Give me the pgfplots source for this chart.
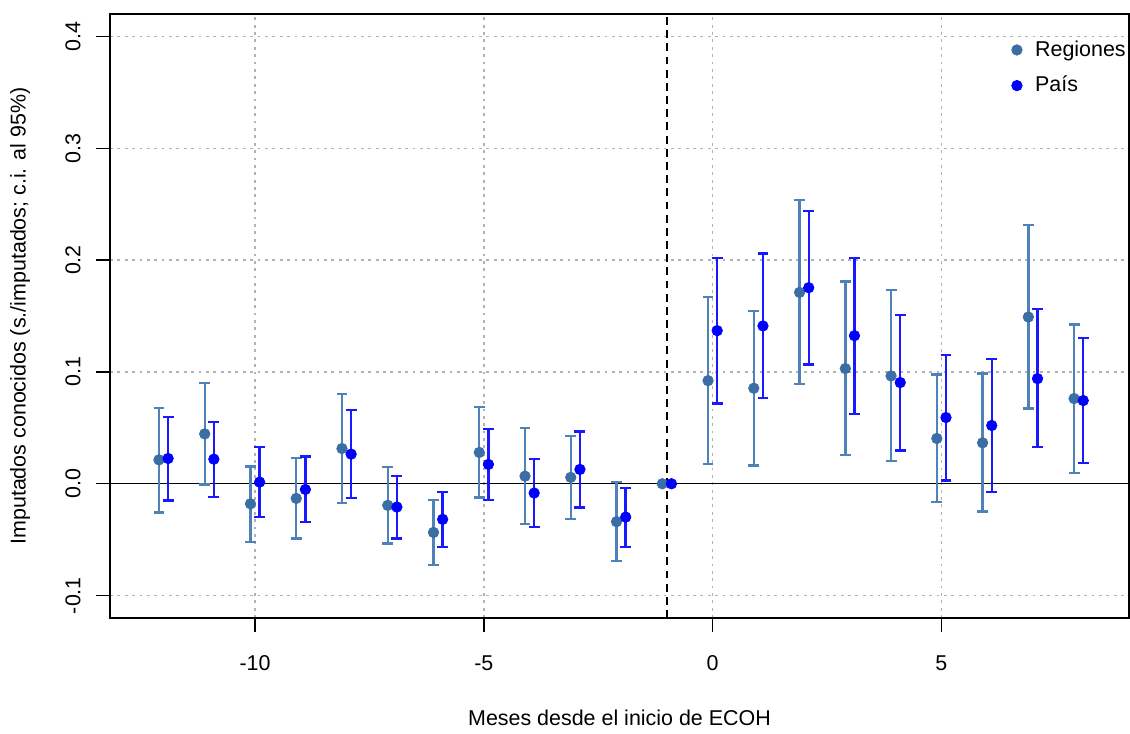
\documentclass[border=0pt]{standalone}
\usepackage{fontspec}
\setmainfont{Liberation Sans}
\usepackage{pgfplots}
\pgfplotsset{compat=1.18}
\usepackage{pgfplotstable}
\definecolor{regpt}{RGB}{58,110,165}
\definecolor{regbar}{RGB}{78,130,185}
\definecolor{paispt}{RGB}{0,0,255}
\definecolor{paisbar}{RGB}{25,25,255}

% mes  estimacion  limite inferior  limite superior
\pgfplotstableread{
m    y        lo       hi
-12  0.0214  -0.0256  0.0679
-11  0.0446  -0.0006  0.0899
-10  -0.0179 -0.0518  0.0155
-9   -0.0131 -0.0490  0.0229
-8   0.0315  -0.0173  0.0804
-7   -0.0193 -0.0533  0.0149
-6   -0.0435 -0.0726  -0.0146
-5   0.0280  -0.0122  0.0685
-4   0.0068  -0.0360  0.0497
-3   0.0057  -0.0315  0.0429
-2   -0.0339 -0.0693  0.0015
-1   0.0000  0.0000   0.0000
0    0.0922  0.0179   0.1670
1    0.0854  0.0164   0.1545
2    0.1711  0.0890   0.2536
3    0.1030  0.0256   0.1807
4    0.0964  0.0202   0.1732
5    0.0405  -0.0164  0.0976
6    0.0366  -0.0247  0.0985
7    0.1491  0.0673   0.2313
8    0.0762  0.0098   0.1423
}\regiones

\pgfplotstableread{
m    y        lo       hi
-12  0.0226  -0.0149  0.0598
-11  0.0220  -0.0116  0.0554
-10  0.0015  -0.0295  0.0327
-9   -0.0051 -0.0342  0.0244
-8   0.0265  -0.0128  0.0660
-7   -0.0208 -0.0488  0.0071
-6   -0.0318 -0.0568  -0.0071
-5   0.0173  -0.0146  0.0488
-4   -0.0083 -0.0387  0.0220
-3   0.0128  -0.0211  0.0467
-2   -0.0298 -0.0565  -0.0036
-1   0.0000  0.0000   0.0000
0    0.1369  0.0717   0.2021
1    0.1411  0.0765   0.2057
2    0.1753  0.1065   0.2438
3    0.1324  0.0625   0.2021
4    0.0905  0.0298   0.1509
5    0.0592  0.0030   0.1152
6    0.0521  -0.0074  0.1116
7    0.0940  0.0327   0.1560
8    0.0744  0.0185   0.1301
}\pais

\begin{document}
\fontsize{12.2}{14.6}\selectfont
\begin{tikzpicture}
\begin{axis}[
  scale only axis,
  width=20.38cm, height=12.08cm,
  xmin=-13.17, xmax=9.1,
  ymin=-0.12, ymax=0.42,
  axis line style={line width=0.8pt},
  xtick={-10,-5,0,5},
  xticklabels={-10,-5,0,5},
  ytick={-0.1,0,0.1,0.2,0.3,0.4},
  yticklabels={-0.1,0.0,0.1,0.2,0.3,0.4},
  xtick pos=bottom, ytick pos=left,
  tick align=outside,
  major tick length=0.28cm,
  tick style={black, line width=0.8pt},
  ticklabel style={font=\fontsize{12.2}{14.6}\selectfont},
  yticklabel style={rotate=90, anchor=south, inner sep=0pt},
  xticklabel style={anchor=north, inner sep=0pt},
  yticklabel shift=0.3cm,
  xticklabel shift=0.46cm,
  grid=major,
  grid style={dash pattern=on 1.6pt off 2.6pt, gray!60, line width=0.8pt},
  xlabel={Meses desde el inicio de ECOH},
  ylabel={Imputados conocidos (s./imputados; c.i. al 95\%)},
  label style={font=\fontsize{12.2}{14.6}\selectfont},
  xlabel style={at={(axis description cs:0.5,0)}, anchor=center, yshift=-2.0cm},
  ylabel style={at={(axis description cs:0,0.5)}, anchor=center, rotate=0, yshift=1.8cm},
  legend style={at={(axis description cs:0.998,0.958)}, anchor=north east,
    draw=none, fill=none, inner sep=0pt, row sep=0.3cm,
    font=\fontsize{12.2}{14.6}\selectfont,
    nodes={inner sep=0.5pt, anchor=west}},
  legend cell align=left,
  legend image code/.code={\path[#1] plot coordinates {(0cm,0cm)}; \path (0.34cm,0cm);},
  clip=false,
]
\draw[black, line width=0.8pt] (axis cs:-13.17,0) -- (axis cs:9.1,0);
\draw[black, dash pattern=on 4.5pt off 3pt, line width=0.8pt] (axis cs:-1,-0.12) -- (axis cs:-1,0.42);

\addplot[only marks, mark=*, mark size=3.0pt, mark options={regpt, fill=regpt},
  error bars/.cd, y dir=both, y explicit,
  error bar style={regbar, line width=1.35pt},
  error mark options={regbar, line width=1.35pt, mark size=3.1pt, rotate=90}]
  table[x expr=\thisrow{m}-0.1, y=y,
        y error plus expr=\thisrow{hi}-\thisrow{y},
        y error minus expr=\thisrow{y}-\thisrow{lo}] {\regiones};
\addlegendentry{Regiones}

\addplot[only marks, mark=*, mark size=3.0pt, mark options={paispt, fill=paispt},
  error bars/.cd, y dir=both, y explicit,
  error bar style={paisbar, line width=1.35pt},
  error mark options={paisbar, line width=1.35pt, mark size=3.1pt, rotate=90}]
  table[x expr=\thisrow{m}+0.1, y=y,
        y error plus expr=\thisrow{hi}-\thisrow{y},
        y error minus expr=\thisrow{y}-\thisrow{lo}] {\pais};
\addlegendentry{País}

\coordinate (bl) at (rel axis cs:0,0);
\coordinate (tr) at (rel axis cs:1,1);
\end{axis}
\path ([shift={(-2.2cm,-2.22cm)}]bl) rectangle ([shift={(0.02cm,0.28cm)}]tr);
\end{tikzpicture}
\end{document}
